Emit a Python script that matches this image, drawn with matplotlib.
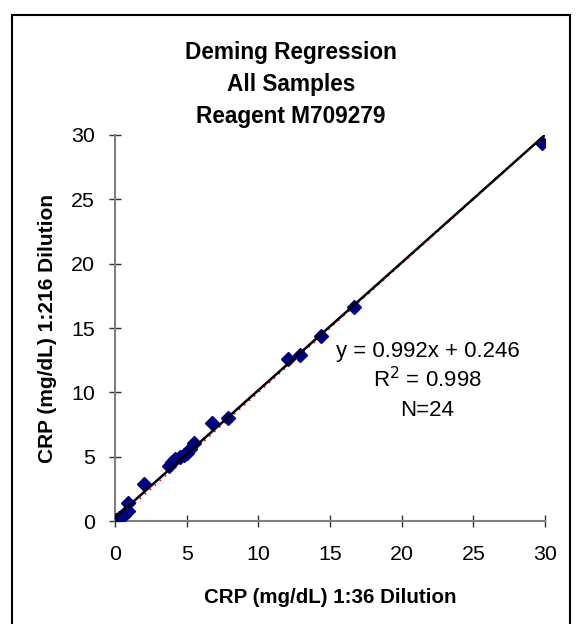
import numpy as np
import matplotlib
matplotlib.use("Agg")
import matplotlib.pyplot as plt
from matplotlib.patches import Rectangle

# CRP values (mg/dL)
dil_36 = [0.1, 0.2, 0.3, 0.5, 0.6, 0.7, 0.9, 0.9, 2.0, 3.8, 4.0, 4.2, 4.5,
          4.8, 5.0, 5.2, 5.5, 6.8, 7.9, 12.1, 12.9, 14.4, 16.7, 29.8]
dil_216 = [0.05, 0.1, 0.2, 0.4, 0.5, 0.6, 0.8, 1.4, 2.9, 4.3, 4.6, 4.8, 5.0,
           5.1, 5.3, 5.6, 6.1, 7.6, 8.0, 12.6, 12.9, 14.4, 16.6, 29.4]
slope = 0.992
intercept = 0.246
r2 = 0.998
ticks = [0, 5, 10, 15, 20, 25, 30]

plt.rcParams['font.family'] = ['Liberation Sans', 'DejaVu Sans']

fig = plt.figure(figsize=(5.76, 6.24), dpi=100)
ax = fig.add_axes([0.1997, 0.165, 0.7465, 0.6187])

# outer frame
fig.patches.append(Rectangle((12 / 576, -0.05), 558 / 576, 1.05 - 15 / 624,
                             transform=fig.transFigure, fill=False,
                             edgecolor='black', linewidth=1.5))

xs = np.array([0, 30])
ax.plot(xs, xs, color='red', linestyle=(0, (1, 3)), linewidth=1.2, zorder=2)
ax.plot(dil_36, dil_216, linestyle='none', marker='D', markersize=7,
        color='#000080', zorder=3)
ax.plot(xs, slope * xs + intercept, color='black', linewidth=1.8, zorder=4)

ax.set_xlim(0, 30)
ax.set_ylim(0, 30)
ax.set_xticks(ticks)
ax.set_yticks(ticks)
ax.tick_params(direction='inout', length=9, width=1, colors='#303030',
               labelcolor='black', labelsize=15.4)
ax.tick_params(axis='x', pad=13)
ax.tick_params(axis='y', pad=10)
for s in ['top', 'right']:
    ax.spines[s].set_visible(False)
for s in ['left', 'bottom']:
    ax.spines[s].set_color('#808080')
    ax.spines[s].set_linewidth(1.5)

ax.set_xlabel('CRP (mg/dL) 1:36 Dilution', fontsize=14.8, fontweight='bold',
              labelpad=17)
ax.set_ylabel('CRP (mg/dL) 1:216 Dilution', fontsize=15, fontweight='bold',
              labelpad=10)

fig.text(0.505, 1 - 53 / 624, 'Deming Regression', ha='center', va='center',
         fontsize=16.3, fontweight='bold')
fig.text(0.505, 1 - 85 / 624, 'All Samples', ha='center', va='center',
         fontsize=16.3, fontweight='bold')
fig.text(0.505, 1 - 117 / 624, 'Reagent M709279', ha='center', va='center',
         fontsize=16.3, fontweight='bold')

ax.text(21.8, 13.2, f'y = {slope}x + {intercept}', ha='center', va='center',
        fontsize=16)
ax.text(21.8, 10.96, f'R$^2$ = {r2}', ha='center', va='center', fontsize=16)
ax.text(21.8, 8.6, 'N=24', ha='center', va='center', fontsize=16)

fig.savefig('out.png', dpi=100)
